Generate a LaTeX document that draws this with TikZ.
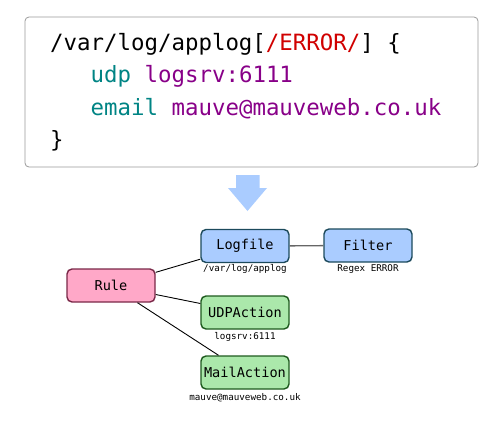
\documentclass[tikz,border=0pt]{standalone}
\usepackage{fontspec}
\usetikzlibrary{shapes,positioning}
\setmonofont{DejaVu Sans Mono}
\definecolor{keyword}{HTML}{008484}
\definecolor{value}{HTML}{880088}
\definecolor{regex}{HTML}{D00000}
\definecolor{bluefill}{HTML}{AACCFF}
\definecolor{blueline}{HTML}{1C4A5C}
\definecolor{pinkfill}{HTML}{FFA8C8}
\definecolor{pinkline}{HTML}{7A2848}
\definecolor{greenfill}{HTML}{ABE8AB}
\definecolor{greenline}{HTML}{1E5A1E}

\begin{document}
\begin{tikzpicture}[
    x=1pt, y=-1pt,
    codeline/.style ={
        anchor=base west,
        inner sep=0pt,
        font=\ttfamily\fontsize{22.4}{26}\selectfont,
    },
    box/.style ={
        rectangle,
        rounded corners=5pt,
        line width=1.4pt,
        minimum width=88pt,
        minimum height=33pt,
        inner sep=0pt,
        font=\ttfamily\fontsize{13.6}{16}\selectfont,
    },
    source/.style ={box, fill=bluefill, draw=blueline},
    rule/.style ={box, fill=pinkfill, draw=pinkline},
    action/.style ={box, fill=greenfill, draw=greenline},
    caption/.style ={
        inner sep=0pt,
        text height=7pt,
        text depth=2pt,
        font=\ttfamily\fontsize{9.25}{11}\selectfont,
    },
    ]
    \useasboundingbox (0,0) rectangle (499,421);
    % config snippet
    \draw[rounded corners=4pt, draw=black!40, line width=0.8pt] (25,17) rectangle (478,167);
    \node[codeline] (l1) at (50,50) {/var/log/applog[\textcolor{regex}{/ERROR/}] \{};
    \node[codeline] (l2) at (90.5,82) {\textcolor{keyword}{udp} \textcolor{value}{logsrv:6111}};
    \node[codeline] (l3) at (90.5,115) {\textcolor{keyword}{email} \textcolor{value}{mauve@mauveweb.co.uk}};
    \node[codeline] (l4) at (50,147) {\}};
    % arrow
    \fill[bluefill] (236,175) -- (259.5,175) -- (259.5,188) -- (267,188)
        -- (247.5,211) -- (228,188) -- (236,188) -- cycle;
    % graph
    \node[rule] (rule) at (111,285.5) {Rule};
    \node[source] (logfile) at (245,246) {Logfile};
    \node[source] (filter) at (368,245.5) {Filter};
    \node[action] (udp) at (245,312.5) {UDPAction};
    \node[action] (mail) at (245,372.5) {MailAction};
    \node[caption, below=1.5pt of logfile] (logpath) {/var/log/applog};
    \node[caption, below=2pt of filter] (regexcap) {Regex ERROR};
    \node[caption, below=2.5pt of udp] (udpcap) {logsrv:6111};
    \node[caption, below=3.5pt of mail] (mailcap) {mauve@mauveweb.co.uk};
    \draw[line width=0.9pt] (rule) -- (logfile);
    \draw[line width=0.9pt] (rule) -- (udp);
    \draw[line width=0.9pt] (rule) -- (mail);
    \draw[line width=1.4pt, black!60] (logfile) -- (filter);
\end{tikzpicture}
\end{document}
